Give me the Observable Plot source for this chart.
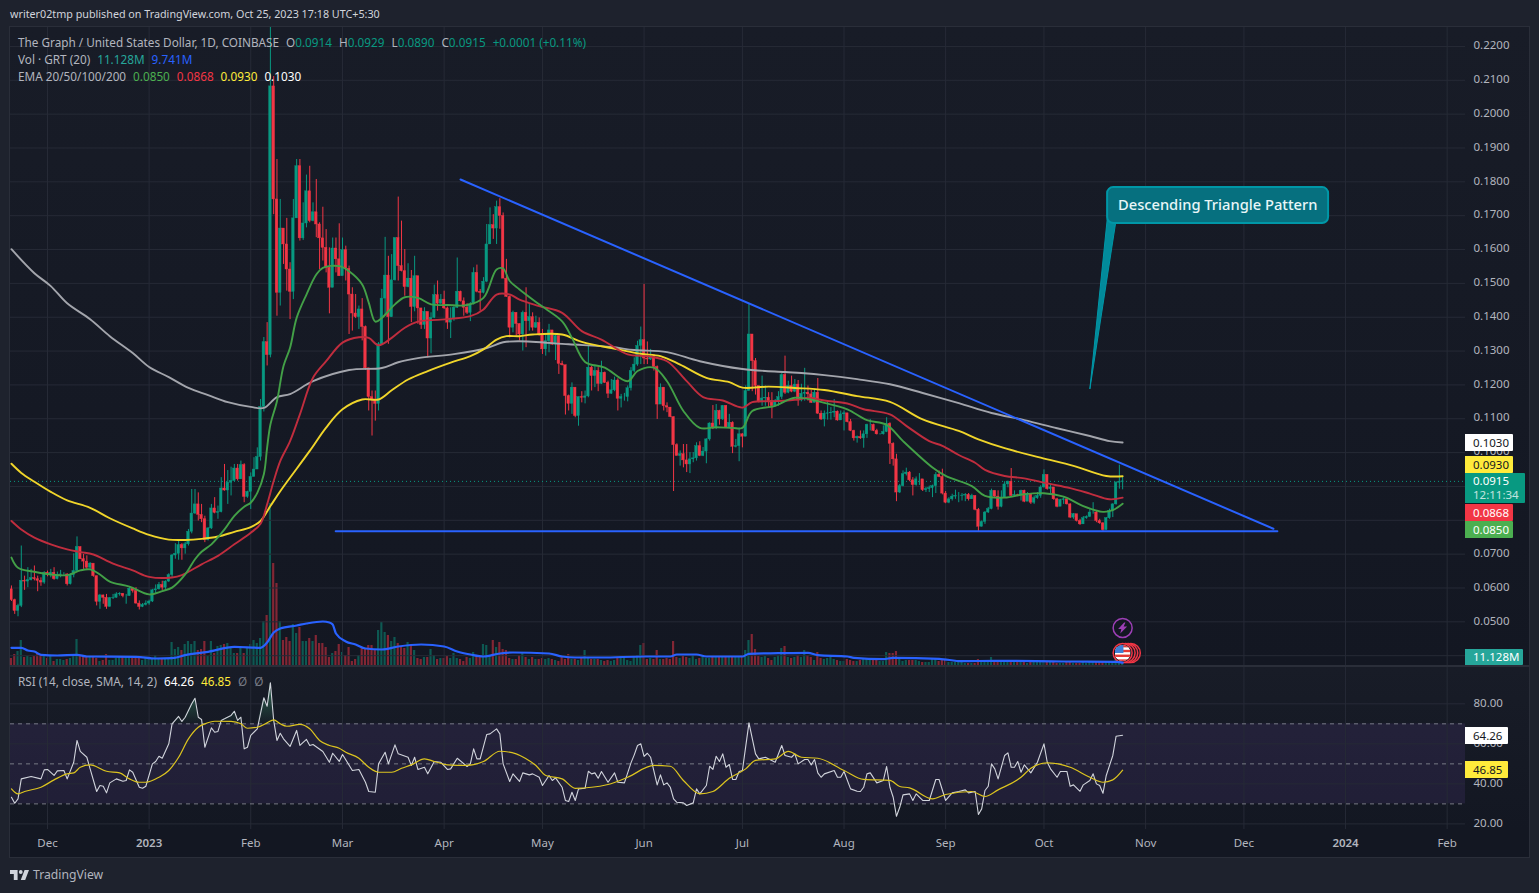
<!DOCTYPE html>
<html><head><meta charset="utf-8">
<script src="https://cdn.jsdelivr.net/npm/d3@7"></script>
<script src="https://cdn.jsdelivr.net/npm/@observablehq/plot@0.6"></script>
<style>
html,body{margin:0;padding:0;background:#1e222d;width:1539px;height:893px;overflow:hidden;font-family:"Noto Sans",sans-serif;}
#head{position:absolute;left:10px;top:7px;font-size:10.75px;line-height:14px;color:#d1d4dc;white-space:nowrap}
#panel{position:absolute;left:9px;top:26px;width:1521px;height:832px;box-sizing:border-box;border:1px solid #2a2e39;background:#131722}
.abs{position:absolute}
.leg{position:absolute;left:18px;font-size:11.75px;line-height:14px;color:#b2b5be;white-space:nowrap}
.leg span{margin-left:7px}
.tag{position:absolute;left:1465px;font-size:11.5px;box-sizing:border-box;padding-left:8px;white-space:nowrap;border-radius:0 1px 1px 0}
#foot{position:absolute;left:10px;top:866px;display:flex;align-items:center;color:#b2b5be;font-size:12.2px}
</style></head><body>
<div id="head">writer02tmp published on TradingView.com, Oct 25, 2023 17:18 UTC+5:30</div>
<div id="panel"></div>
<div class="abs" id="paneMain" style="left:10px;top:27px;width:1519px;height:638px;background:linear-gradient(#181c27,#131722)"></div>
<div class="abs" style="left:10px;top:665px;width:1519px;height:2px;background:#2a2e39"></div>
<div class="abs" id="paneRsi" style="left:10px;top:667px;width:1519px;height:190px;background:linear-gradient(#181c27 0,#131722 162px)"></div>
<div id="foot"><svg width="19" height="10" viewBox="2 6 30 15" preserveAspectRatio="none" style="margin-right:4px"><path fill="#d1d4dc" d="M14 6H2v6h6v9h6V6Zm12 15h-7l6-15h7l-6 15Zm-7-9a3 3 0 1 0 0-6 3 3 0 0 0 0 6Z"/></svg>TradingView</div>
<script>
// Every price series below is in ten-thousandths of a dollar.
const startDate = "2022-11-20";
const firstOpen = 596;
const closes = [
564,532,547,621,619,623,629,626,621,616,645,640,645,626,638,640,640,611,638,650,
721,685,678,660,672,635,559,578,571,544,570,571,581,583,576,576,598,591,554,544,
550,554,560,593,596,609,601,619,638,696,701,727,717,729,766,820,847,816,803,741,
776,835,822,824,894,888,911,916,953,921,963,869,884,928,950,987,1135,1326,1288,2082,
1748,1472,1662,1615,1541,1475,1692,1846,1633,1677,1772,1684,1710,1674,1633,1605,1546,1487,1603,1571,
1521,1598,1543,1467,1411,1400,1423,1371,1249,1164,1157,1144,1320,1455,1523,1400,1509,1634,1551,1536,
1489,1514,1430,1521,1426,1377,1416,1337,1398,1465,1440,1452,1426,1384,1396,1428,1475,1447,1428,1413,
1438,1531,1475,1472,1505,1615,1672,1662,1725,1699,1514,1460,1369,1413,1380,1349,1413,1388,1400,1369,
1383,1349,1305,1329,1361,1319,1344,1262,1258,1167,1144,1192,1108,1164,1162,1166,1251,1226,1241,1203,
1236,1206,1174,1184,1213,1159,1164,1164,1190,1241,1260,1315,1332,1278,1275,1282,1253,1142,1192,1137,
1133,1105,1022,990,995,977,965,980,983,1019,990,1003,1039,1086,1072,1123,1098,1138,1073,1088,
1017,1019,1054,1047,1182,1349,1270,1197,1150,1160,1162,1152,1137,1152,1164,1229,1177,1197,1180,1201,
1154,1174,1177,1172,1147,1177,1115,1098,1115,1116,1118,1121,1095,1113,1116,1090,1064,1042,1046,1042,
1054,1082,1082,1064,1054,1054,1061,1085,1026,980,882,901,936,941,918,904,921,921,889,892,
895,901,934,928,879,852,862,870,872,872,873,875,862,872,831,781,795,823,833,887,
870,840,867,906,914,872,875,874,887,855,877,852,865,872,897,934,892,897,862,840,
860,862,847,808,818,798,788,806,810,823,823,798,791,771,806,828,847,911,913,915];
const highs = [
606,567,552,724,635,660,655,665,635,630,648,650,655,660,647,652,645,642,642,701,
751,721,699,695,675,655,635,581,579,581,572,581,586,586,583,581,603,599,601,562,
554,562,564,596,609,616,620,621,642,699,731,739,731,735,773,891,891,881,847,812,
778,847,867,842,926,965,947,957,965,965,975,967,886,940,985,1014,1157,1340,1384,2260,
2111,1866,1748,1662,1692,1561,1748,1866,1866,1738,1820,1846,1738,1807,1679,1725,1659,1605,1634,1634,
1676,1634,1610,1551,1487,1467,1433,1455,1374,1249,1182,1182,1325,1482,1636,1580,1585,1634,1755,1684,
1600,1558,1538,1580,1521,1426,1428,1413,1413,1495,1507,1467,1477,1430,1428,1433,1575,1477,1457,1440,
1443,1546,1554,1482,1517,1674,1723,1703,1743,1750,1708,1571,1462,1418,1413,1380,1418,1487,1438,1413,
1403,1398,1364,1349,1379,1361,1349,1344,1270,1258,1170,1206,1189,1164,1180,1182,1315,1255,1258,1251,
1270,1238,1211,1216,1223,1218,1172,1175,1197,1251,1280,1329,1371,1497,1327,1305,1290,1256,1203,1192,
1147,1133,1105,1026,1005,1024,1024,1000,1000,1029,1032,1015,1041,1088,1139,1142,1125,1139,1139,1113,
1091,1039,1073,1056,1197,1438,1349,1278,1194,1226,1197,1177,1177,1157,1180,1233,1285,1211,1226,1216,
1213,1202,1249,1197,1184,1187,1219,1123,1123,1152,1133,1157,1123,1123,1123,1116,1098,1066,1049,1064,
1064,1084,1098,1084,1069,1056,1079,1103,1088,1029,995,906,946,954,944,926,928,938,918,897,
901,904,941,946,951,885,867,877,889,882,879,879,879,877,872,835,798,826,838,892,
887,887,887,914,916,953,887,877,889,889,882,877,872,882,902,949,934,906,882,865,
862,867,857,849,820,816,803,811,813,833,852,826,803,793,808,833,849,914,963,929];
const lows = [
560,522,515,542,593,601,621,621,589,605,611,633,630,623,624,630,635,606,609,630,
648,685,655,655,652,632,547,537,552,537,544,566,570,576,571,552,576,585,552,535,
542,547,549,557,584,594,593,596,616,631,685,682,682,700,724,760,817,798,793,734,
739,773,819,803,822,886,847,872,916,916,921,852,865,832,928,950,975,1120,1256,1280,
1703,1403,1433,1556,1477,1393,1452,1692,1625,1627,1664,1679,1682,1635,1541,1566,1531,1410,1487,1531,
1521,1551,1507,1349,1359,1396,1364,1330,1243,1123,1049,1093,1123,1318,1408,1320,1400,1507,1507,1534,
1462,1487,1384,1416,1379,1364,1364,1280,1292,1396,1418,1438,1423,1364,1337,1388,1426,1445,1403,1408,
1387,1436,1472,1418,1469,1502,1615,1630,1615,1660,1514,1459,1339,1354,1344,1330,1300,1310,1359,1359,
1367,1344,1290,1285,1295,1317,1272,1231,1256,1111,1123,1113,1103,1078,1147,1144,1162,1182,1192,1180,
1201,1204,1160,1172,1180,1123,1132,1152,1150,1182,1236,1255,1260,1260,1260,1272,1241,1098,1142,1123,
1118,1103,885,990,960,955,941,938,970,975,988,988,967,1034,1068,1068,1081,1095,1071,1071,
997,1014,973,1014,1047,1182,1180,1170,1147,1137,1137,1133,1100,1135,1137,1157,1172,1174,1177,1177,
1137,1150,1152,1152,1145,1147,1113,1095,1076,1096,1096,1103,1093,1095,1064,1088,1062,1034,1028,1039,
1013,1042,1064,1062,1052,1052,1052,1059,965,960,855,879,899,931,914,872,901,903,885,882,
882,867,879,926,875,849,849,857,862,852,857,855,857,862,828,766,780,788,820,831,
867,830,837,865,896,870,870,870,857,852,862,847,847,862,865,895,889,877,859,837,
845,847,845,805,803,795,785,788,803,808,818,793,788,764,771,803,808,845,892,890];
// Volume, read as bar height: one unit is about 3.5M.
const volumes = [
7,11,14,25,8,9,8,9,12,10,9,7,9,4,6,6,5,6,7,9,
26,10,9,8,8,8,7,4,5,11,5,5,7,8,9,8,8,7,9,7,
5,7,7,7,10,7,6,7,6,23,16,18,15,21,24,21,24,15,16,24,
9,24,12,19,20,21,22,17,12,12,18,12,17,21,25,22,27,44,50,162,
102,82,44,25,28,24,41,32,38,24,24,27,24,30,22,22,18,8,12,14,
21,13,10,18,4,6,10,17,17,20,20,16,35,43,33,30,24,28,22,18,
17,23,20,15,7,6,8,8,16,10,6,7,7,9,7,12,7,6,4,8,
7,13,10,8,21,20,10,25,18,23,16,15,7,6,6,10,12,8,6,8,
6,6,7,6,7,6,5,4,8,6,11,6,6,5,7,15,7,6,6,6,
5,4,5,4,5,8,9,8,5,4,9,10,20,22,6,7,6,15,6,6,
7,6,24,8,7,9,8,7,10,6,7,9,7,7,9,8,8,9,9,8,
9,8,9,10,15,25,31,16,9,8,9,7,5,8,10,17,19,8,7,8,
10,8,15,10,8,5,13,7,6,7,8,6,5,4,4,6,5,4,4,5,
6,7,6,5,6,4,4,13,12,12,14,6,4,5,5,5,5,4,3,3,
3,6,7,4,5,5,3,3,3,4,3,2,2,2,2,6,3,3,4,8,
4,4,3,3,4,4,3,3,3,3,2,3,3,3,4,5,4,3,3,2,
2,2,3,3,2,2,2,3,2,3,3,3,3,4,4,3,3,6,5,3.2];
const volMaDays = [0,3,5,7,9,14,20,23,38,44,49,53,60,68,76,78,80,82,87,90,95,97,98,99,102,105,108,113,118,125,132,136,140,144,149,153,164,168,172,180,193,201,203,209,212,223,225,234,243,246,255,257,266,269,283,290,300,321,337,339];
const volMa = [17.7,17.7,15,14,10.7,10,10.7,9,8.7,7,7.3,10.3,13.7,18.7,17.7,23,33,37,40,42,44,43,41,32,24,21,17,16,19,21,19,14,11,9,12,13,12,9,8,8,9,9,11,11,9,9,11.7,12.3,12.7,10.3,9,7.7,6.3,7.7,6.7,4.3,4.7,4,3.7,2.8];
const ema200Days = [0,7,12,17,24,30,37,42,48,54,60,66,73,77,81,85,92,103,113,118,124,135,145,150,155,170,183,190,200,210,223,236,241,248,258,268,278,289,299,309,319,329,335,339];
const ema200 = [1601,1530,1492,1441,1394,1344,1294,1253,1223,1191,1170,1149,1135,1132,1164,1173,1211,1244,1250,1267,1279,1291,1309,1326,1329,1320,1312,1303,1297,1270,1247,1238,1235,1229,1217,1202,1176,1146,1117,1096,1072,1049,1034,1030];
const ema100Days = [0,3,7,12,17,24,30,37,42,48,53,58,63,68,73,76,79,82,91,96,101,107,112,116,121,127,134,140,144,148,151,155,159,168,174,185,192,198,204,212,219,223,231,239,248,258,268,278,289,295,303,314,324,334,339];
const ema100 = [967,940,914,884,859,837,806,776,757,743,742,745,752,766,780,798,842,886,1005,1074,1128,1157,1157,1184,1216,1241,1266,1285,1305,1334,1344,1344,1349,1349,1327,1305,1292,1285,1260,1221,1208,1192,1195,1191,1185,1167,1150,1098,1064,1039,1013,985,961,931,930];
const ema50Days = [0,3,7,12,17,21,25,31,37,42,49,52,58,63,68,73,76,78,80,82,85,88,92,96,101,106,109,112,116,120,124,131,140,144,148,152,155,161,168,174,180,188,194,200,206,211,217,223,226,233,240,243,248,255,260,268,273,280,284,289,294,297,303,309,316,323,329,335,339];
const ema50 = [798,773,749,729,714,706,699,672,652,633,631,638,670,695,729,763,790,847,916,975,1034,1113,1221,1270,1325,1341,1339,1317,1339,1369,1387,1393,1403,1423,1467,1467,1452,1433,1413,1359,1334,1290,1285,1270,1211,1164,1154,1133,1149,1152,1157,1162,1154,1145,1128,1113,1079,1034,1020,993,970,949,931,924,909,895,879,862,867];
const ema20Days = [0,2,7,12,17,21,24,27,30,36,42,46,49,53,56,58,61,65,68,71,73,75,77,78,79,81,83,85,87,90,93,95,100,103,107,109,111,113,117,120,124,128,133,139,144,148,150,152,155,161,168,171,175,181,188,191,196,200,205,210,215,220,223,226,233,239,248,255,261,267,272,281,285,293,297,303,309,315,321,327,333,336,339];
const ema20 = [690,660,648,640,638,652,655,640,619,604,581,591,601,640,685,707,729,773,813,840,852,881,936,1015,1083,1152,1256,1310,1398,1467,1526,1546,1551,1536,1497,1443,1387,1398,1438,1459,1457,1438,1436,1436,1457,1541,1544,1507,1482,1438,1388,1339,1268,1251,1211,1241,1251,1211,1123,1073,1075,1073,1073,1123,1138,1162,1147,1128,1096,1082,1034,956,931,901,872,867,877,880,870,842,825,830,849];
const rsiDays = [0,1,2,3,6,9,10,11,13,14,16,17,19,20,21,23,24,26,27,28,29,30,32,34,35,36,37,39,40,41,43,44,45,46,48,49,51,52,53,55,56,57,58,59,61,62,63,64,65,67,68,69,70,71,72,73,75,77,78,79,80,81,82,83,85,87,88,90,91,92,95,97,98,100,101,104,106,108,109,111,112,114,115,117,118,121,122,123,124,126,127,129,131,133,134,136,139,140,141,142,143,145,146,148,149,150,152,153,155,156,158,159,161,162,164,165,166,168,169,170,171,172,173,175,176,177,178,179,180,182,184,185,187,189,190,191,192,193,194,195,197,198,199,200,201,202,203,205,206,208,209,210,212,213,214,215,216,217,218,219,220,221,222,223,225,227,228,230,233,235,236,238,239,240,242,243,244,245,246,247,248,251,252,253,254,256,258,259,260,261,262,264,266,267,268,269,270,271,272,274,275,276,278,280,282,283,285,287,289,291,292,294,295,296,297,298,299,300,301,303,304,305,306,307,308,309,311,313,315,316,317,319,320,322,323,324,326,327,329,330,331,332,333,334,336,337,339];
const rsi = [33.3,30.3,32.5,42.5,43.7,42.5,47,47.2,44.2,46.5,46.7,42.5,50.8,61.7,56.2,53.3,47.5,36.2,39.2,38.8,35.5,40.5,42.5,41.3,41.7,47,45.8,38.3,37.8,38.8,50,51.2,53.8,52.8,60,70,73.7,71.2,73.3,80,82.8,73.3,72.2,58.3,68,65.8,66.2,71.7,72.5,74.2,76.3,71.7,73.3,57.5,58.3,64.2,67.5,83,78.8,90.5,71.7,61.7,65.3,62.5,58.7,66.7,59.2,62.2,59.2,59.7,56.2,50.8,55.3,51.2,54.7,46.7,47.2,40.8,36.2,35.8,50,55.8,50,59.5,55,53.3,49.2,53.3,47.2,48.3,45,51.2,50.8,47.2,47.5,52.8,48.7,50,57.5,52.5,52.5,64.7,65,67.5,65,50,41.2,45,41.2,45.5,44.5,45,43.3,39.2,44.2,41.7,43,38.3,31.7,31.2,35.8,31.7,37.5,37.8,46.3,45,45.5,42.8,46.2,40.8,45.5,40.8,40.5,50.5,54.5,59.2,60,53.7,55.3,53.3,39.5,44.5,39.5,40.5,38.3,32.5,30.8,30.5,29.2,30.5,37.5,35,39.2,48.8,47.2,53.8,51.2,55,48.3,49.7,42.2,42.2,46.2,46.7,70.5,55,52.5,53.3,50.8,59.2,54.2,53.3,55,50,52.2,52.2,49.5,52.2,45.5,43.3,45,46.7,43.3,43.3,46.2,37.5,36.3,36.2,38.3,45,45.5,40.5,41.7,48.7,38.3,33.3,23.8,28.3,34.5,35,31.7,35,31.7,31.7,42.2,42.2,31.7,35.5,36.2,37,35.5,36.2,24.7,27.5,36.7,38.8,50,47.5,42.5,54.2,55.5,48.3,48.3,51.2,45.8,49.5,45.5,50.8,60,50.8,47.5,43.3,46.2,46.2,38.8,39.5,36.3,39.5,41.7,45,40,39.2,35.3,44.2,54.2,63.8,64.26];
const rsiMaDays = [0,2,4,9,13,17,19,21,24,29,33,36,39,41,45,48,51,54,57,59,62,67,70,72,75,78,80,82,84,88,91,94,97,100,102,106,109,112,116,119,122,126,129,133,139,144,149,154,157,160,163,168,172,182,188,196,201,205,210,214,219,224,227,233,237,241,246,254,260,268,271,274,281,285,293,297,301,308,311,316,323,329,333,336,339];
const rsiMa = [37.5,35,36.2,38.3,42,45,45.5,48.3,49.5,46.3,45.5,42.5,40.8,40.8,43.3,46.7,53.3,62.5,68.3,70,71.3,71.2,70,67.8,68.3,70.5,72,70,68.8,69.7,67.5,61.7,59.2,57.8,55.8,52.8,48.3,45.8,45.8,47.8,49.5,52.5,51.2,49.5,49.2,51.2,56.3,55,52.5,49.2,44.2,42.5,37.8,39.7,43.3,49.2,48.8,41.7,35,36.2,42.8,47.5,51.7,52.5,56.2,53.3,52.8,46.7,42.2,41.7,38.7,38,32.5,34.7,36.2,33.7,37,43.3,47.8,50.5,48.3,43.3,40.8,42,46.85];
// The 0.0800 and 0.0900 labels are hidden behind the price tags in the reference, so only their grid lines remain.
const priceTicks = [0.05,0.06,0.07,0.10,0.11,0.12,0.13,0.14,0.15,0.16,0.17,0.18,0.19,0.20,0.21,0.22];
const priceGrid = [0.04,0.08,0.09, ...priceTicks];
const rsiTicks = [20,40,60,80];
const rsiLevels = [30,50,70];
const monthDates = ["2022-12-01","2023-01-01","2023-02-01","2023-03-01","2023-04-01","2023-05-01","2023-06-01","2023-07-01","2023-08-01","2023-09-01","2023-10-01","2023-11-01","2023-12-01","2024-01-01","2024-02-01"];
const monthLabels = ["Dec","2023","Feb","Mar","Apr","May","Jun","Jul","Aug","Sep","Oct","Nov","Dec","2024","Feb"];
// Drawings on the chart
const resistanceDates = ["2023-04-06","2023-12-10"];
const resistancePrices = [0.1807,0.0775];
const supportDates = ["2023-02-26T22:00Z","2023-12-11T05:00Z"];
const supportPrices = [0.0768,0.0768];
const calloutText = "Descending Triangle Pattern";
const calloutDates = ["2023-10-20T10:00Z","2023-12-26T20:00Z"];
const calloutPrices = [0.1677,0.1783];
const calloutLabelDate = "2023-11-23T00:00Z";
const calloutLabelPrice = 0.1730;
const pointerDates = ["2023-10-20T10:00Z","2023-10-15T00:00Z","2023-10-22T20:00Z"];
const pointerPrices = [0.1701,0.1188,0.1677];
const eventDate = "2023-10-25";
const eventShifts = [2.5,1.7,0.9,0];
const lightningPrice = 0.0482;
const flagPrice = 0.0408;
// Scale limits
const xDomain = [new Date("2022-11-19T17:00Z"), new Date("2024-02-06T14:24Z")];
const priceDomain = [0.0371,0.2256];
const rsiDomain = [17.2,98.15];
const up = "#089981", down = "#f23645";
const gridColor = "#262a36", textColor = "#b2b5be", font = '"Noto Sans",sans-serif';
const DAY = 864e5;
const dayDate = i => new Date(Date.parse(startDate+"T00:00Z") + i*DAY);
const d = s => new Date(s.length===10 ? s+"T00:00Z" : s);
const candles = closes.map((c,i)=>{
  const open=(i?closes[i-1]:firstOpen)/1e4, close=c/1e4;
  return {date:dayDate(i),open,close,high:highs[i]/1e4,low:lows[i]/1e4,volume:volumes[i],color:close>=open?up:down};
});
const series = (days,vals,k=1e-4)=>days.map((t,i)=>({date:dayDate(t),value:vals[i]*k}));
const months = monthDates.map((s,i)=>({date:d(s),label:monthLabels[i],year:/^\d+$/.test(monthLabels[i])}));
const monthDateObjs = months.map(m=>m.date);
const base = {width:1519,marginTop:0,marginLeft:0,marginBottom:0,marginRight:64,
  style:{background:"transparent",fontFamily:font,overflow:"visible"}};
const xs = {type:"utc",domain:xDomain,axis:null};
const x1 = r=>new Date(+r.date-0.39*DAY), x2 = r=>new Date(+r.date+0.39*DAY);

const volPlot = Plot.plot({...base,height:638,x:xs,y:{domain:[0,638],axis:null},marks:[
  Plot.rect(candles,{x1:r=>new Date(+r.date-0.33*DAY),x2:r=>new Date(+r.date+0.33*DAY),y1:()=>0,y2:"volume",fill:"color",fillOpacity:0.5}),
]});
const ln = (days,vals,stroke,w=1.9)=>Plot.line(series(days,vals),{x:"date",y:"value",stroke,strokeWidth:w,curve:"catmull-rom",clip:true});
const flag = "data:image/svg+xml,"+encodeURIComponent('<svg xmlns="http://www.w3.org/2000/svg" viewBox="0 0 20 20"><defs><clipPath id="c"><circle cx="10" cy="10" r="10"/></clipPath></defs><g clip-path="url(#c)"><rect width="20" height="20" fill="#fff"/><rect y="0" width="20" height="3" fill="#e53935"/><rect y="6" width="20" height="3" fill="#e53935"/><rect y="12" width="20" height="3" fill="#e53935"/><rect y="18" width="20" height="3" fill="#e53935"/><rect width="11" height="10" fill="#3f7fd6"/></g></svg>');
const bolt = "data:image/svg+xml,"+encodeURIComponent('<svg xmlns="http://www.w3.org/2000/svg" viewBox="0 0 12 12"><path fill="#9c3fb5" d="M7.5 0.5 1.5 7h3.2L3.6 11.5 10.5 4.6H7L8.8 0.5z"/></svg>');
const mainPlot = Plot.plot({...base,height:638,x:xs,y:{domain:priceDomain,axis:null},marks:[
  Plot.ruleY(priceGrid,{stroke:gridColor,strokeWidth:1}),
  Plot.ruleX(monthDateObjs,{stroke:gridColor,strokeWidth:1}),
  Plot.axisY(priceTicks,{anchor:"right",tickSize:0,tickPadding:8,tickFormat:v=>v.toFixed(4),fill:textColor,fontSize:11.5,dy:-1,label:null}),
  Plot.ruleY([closes[closes.length-1]/1e4],{stroke:up,strokeDasharray:"1 3",strokeWidth:1}),
  Plot.ruleX(candles,{x:"date",y1:"low",y2:"high",stroke:"color",strokeWidth:1,clip:true}),
  Plot.rect(candles,{x1,x2,y1:"open",y2:"close",fill:"color",stroke:"color",strokeWidth:0.4,clip:true}),
  ln(ema200Days,ema200,"#a3a5ac"),
  ln(ema100Days,ema100,"#f0d52a"),
  ln(ema50Days,ema50,"#c02d3e"),
  ln(ema20Days,ema20,"#43a047"),
  Plot.line(resistanceDates.map((s,i)=>({date:d(s),p:resistancePrices[i]})),{x:"date",y:"p",stroke:"#2962ff",strokeWidth:2}),
  Plot.line(supportDates.map((s,i)=>({date:d(s),p:supportPrices[i]})),{x:"date",y:"p",stroke:"#2962ff",strokeWidth:2}),
  Plot.line(pointerDates.map((s,i)=>({date:d(s),p:pointerPrices[i]})),{x:"date",y:"p",fill:"#0097a7",fillOpacity:0.9,stroke:"#0097a7",strokeWidth:1}),
  Plot.rect([0],{x1:()=>d(calloutDates[0]),x2:()=>d(calloutDates[1]),y1:()=>calloutPrices[0],y2:()=>calloutPrices[1],fill:"#06707f",stroke:"#0097a7",strokeWidth:2,rx:6}),
  Plot.text([calloutText],{x:()=>d(calloutLabelDate),y:()=>calloutLabelPrice,text:t=>t,fill:"#e8f6f8",fontSize:14.7,fontWeight:500}),
  Plot.dot([0],{x:()=>d(eventDate),y:()=>lightningPrice,r:9.5,stroke:"#9c3fb5",strokeWidth:1.5,fill:"#131722"}),
  Plot.image([0],{x:()=>d(eventDate),y:()=>lightningPrice,src:bolt,width:12,height:12}),
  Plot.dot(eventShifts,{x:s=>new Date(+d(eventDate)+s*DAY),y:()=>flagPrice,r:9.5,stroke:down,strokeWidth:1.5,fill:"#131722"}),
  Plot.image([0],{x:()=>d(eventDate),y:()=>flagPrice,src:flag,width:16,height:16}),
  Plot.line(series(volMaDays,volMa,(priceDomain[1]-priceDomain[0])/638).map(r=>({date:r.date,value:r.value+priceDomain[0]})),{x:"date",y:"value",stroke:"#2962ff",strokeWidth:2.2,curve:"monotone-x"}),
]});
const gradient = () => {
  const g = d3.create("svg:g");
  const lg = g.append("defs").append("linearGradient").attr("id","ob").attr("x1",0).attr("y1",0).attr("x2",0).attr("y2",1);
  lg.append("stop").attr("offset","0%").attr("stop-color","#2e7d5a").attr("stop-opacity",0.75);
  lg.append("stop").attr("offset","100%").attr("stop-color","#2e7d5a").attr("stop-opacity",0.02);
  return g.node();
};
const rsiPoints = rsiDays.map((t,i)=>({date:dayDate(t),value:rsi[i]}));
const rsiPlot = Plot.plot({...base,height:190,marginBottom:28,x:xs,y:{domain:rsiDomain,axis:null},marks:[
  gradient,
  Plot.rect([0],{x1:()=>xDomain[0],x2:()=>xDomain[1],y1:()=>rsiLevels[0],y2:()=>rsiLevels[2],fill:"#7e57c2",fillOpacity:0.13}),
  Plot.ruleY(rsiTicks,{stroke:gridColor,strokeWidth:1}),
  Plot.ruleX(monthDateObjs,{stroke:gridColor,strokeWidth:1}),
  Plot.ruleY(rsiLevels,{stroke:"#787b86",strokeDasharray:"4 4",strokeWidth:1}),
  Plot.axisY(rsiTicks,{anchor:"right",tickSize:0,tickPadding:8,tickFormat:v=>v.toFixed(2),fill:textColor,fontSize:11.5,dy:-1,label:null}),
  Plot.areaY(rsiPoints,{x:"date",y1:()=>70,y2:r=>Math.max(r.value,70),fill:"url(#ob)"}),
  Plot.line(rsiPoints,{x:"date",y:"value",stroke:"#d1d4dc",strokeWidth:1.1}),
  Plot.line(series(rsiMaDays,rsiMa,1),{x:"date",y:"value",stroke:"#dcc41f",strokeWidth:1.2,curve:"monotone-x"}),
  Plot.text(months.filter(m=>!m.year),{x:"date",text:"label",frameAnchor:"bottom",dy:17,fill:textColor,fontSize:11.5}),
  Plot.text(months.filter(m=>m.year),{x:"date",text:"label",frameAnchor:"bottom",dy:17,fill:textColor,fontSize:11.5,fontWeight:600}),
]});
document.getElementById("paneMain").append(volPlot);
volPlot.style.position="absolute";volPlot.style.left="0";volPlot.style.top="0";
mainPlot.style.position="absolute";mainPlot.style.left="0";mainPlot.style.top="0";
document.getElementById("paneMain").append(mainPlot);
rsiPlot.style.position="absolute";rsiPlot.style.left="0";rsiPlot.style.top="0";
document.getElementById("paneRsi").append(rsiPlot);

// Legends and price tags
const legendRows = [
 {top:35,parts:[["The Graph / United States Dollar, 1D, COINBASE","#b2b5be"],["O","#b2b5be",1],["0.0914",up,2],["H","#b2b5be",1],["0.0929",up,2],["L","#b2b5be",1],["0.0890",up,2],["C","#b2b5be",1],["0.0915",up,2],["+0.0001 (+0.11%)",up]]},
 {top:52,parts:[["Vol · GRT (20)","#b2b5be"],["11.128M","#26a69a"],["9.741M","#2962ff"]]},
 {top:69,parts:[["EMA 20/50/100/200","#b2b5be"],["0.0850","#4caf50"],["0.0868","#f23645"],["0.0930","#ffeb3b"],["0.1030","#ffffff"]]},
 {top:674,parts:[["RSI (14, close, SMA, 14, 2)","#b2b5be"],["64.26","#ffffff"],["46.85","#ffeb3b"],["Ø","#787b86"],["Ø","#787b86"]]},
];
legendRows.forEach(row=>{
  const el=document.createElement("div");el.className="leg";el.style.top=row.top+"px";
  row.parts.forEach(([t,c,k],i)=>{const s=document.createElement("span");s.textContent=t;s.style.color=c;
    if(i===0)s.style.marginLeft="0"; if(k===2)s.style.marginLeft="0"; el.append(s);});
  document.body.append(el);
});
const tags = [
 ["0.1030",434,17,48,"#ffffff","#131722"],["0.0930",456,17,48,"#ffeb3b","#131722"],
 ["0.0868",504,17,48,"#f23645","#ffffff"],["0.0850",521,17,48,"#4caf50","#ffffff"],
 ["11.128M",649,16,58,"#26a69a","#ffffff"],["64.26",727,17,43,"#ffffff","#131722"],["46.85",761,17,43,"#ffeb3b","#131722"],
];
tags.forEach(([t,top,h,w,bg,fg])=>{
  const el=document.createElement("div");el.className="tag";el.textContent=t;
  el.style.cssText+=`top:${top}px;height:${h}px;line-height:${h}px;width:${w}px;background:${bg};color:${fg}`;
  document.body.append(el);
});
const live=document.createElement("div");live.className="tag";
live.style.cssText+="top:473px;height:30px;width:60px;background:#089981;color:#fff;line-height:14px;padding-top:1px";
live.innerHTML='0.0915<br><span style="opacity:.75">12:11:34</span>';
document.body.append(live);
</script>
</body></html>
